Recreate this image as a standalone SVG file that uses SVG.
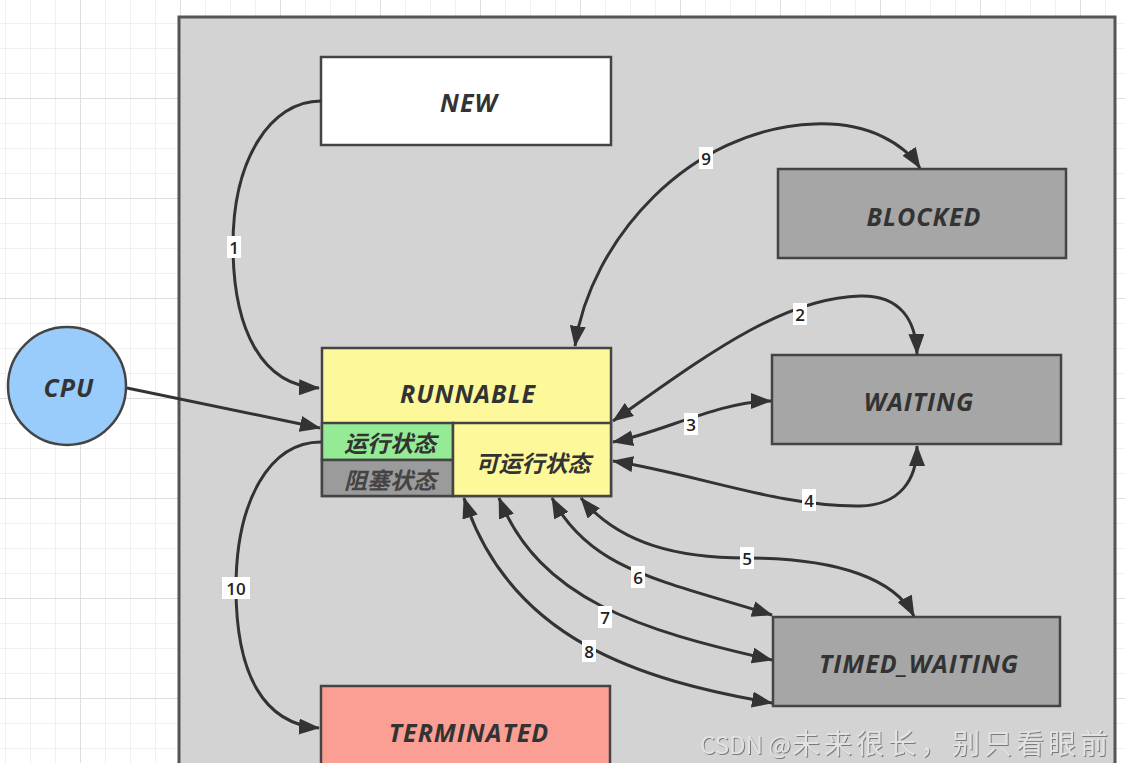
<svg xmlns="http://www.w3.org/2000/svg" width="1125" height="771" viewBox="0 0 1125 771">
<defs>
<pattern id="gridMinor" width="25" height="25" patternUnits="userSpaceOnUse" x="5" y="23">
<path d="M0,0 H25 M0,0 V25" fill="none" stroke="#ececec" stroke-width="1.5"/>
</pattern>
<pattern id="gridMajor" width="100" height="100" patternUnits="userSpaceOnUse" x="80" y="98">
<path d="M0,0 H100 M0,0 V100" fill="none" stroke="#dedede" stroke-width="2"/>
</pattern>
<marker id="arrow" markerUnits="userSpaceOnUse" markerWidth="22" markerHeight="16" refX="20" refY="8" orient="auto-start-reverse">
<path d="M0,0 L21,8 L0,16 z" fill="#333"/>
</marker>
<filter id="emboss" x="-5%" y="-20%" width="110%" height="140%">
<feDropShadow dx="1" dy="1" stdDeviation="0.3" flood-color="#7a7a7a" flood-opacity="1"/>
</filter>
<style>
.box{stroke:#444;stroke-width:2.5}
.state{font-family:"Open Sans","DejaVu Sans",sans-serif;font-weight:700;font-style:italic;font-size:25px;letter-spacing:1px;fill:#333;text-anchor:middle;dominant-baseline:central}
.cn{font-family:"Noto Sans CJK SC",sans-serif;font-weight:700;font-style:italic;font-size:23px;fill:#333;text-anchor:middle;dominant-baseline:central}
.conn{fill:none;stroke:#333;stroke-width:3}
.lblbg{fill:#ffffff}
.lbl{font-family:"Open Sans","DejaVu Sans",sans-serif;font-weight:600;font-size:17px;fill:#222;text-anchor:middle;dominant-baseline:central}
.wm{font-family:"Noto Sans CJK SC",sans-serif}
</style>
</defs>
<rect width="1125" height="771" fill="#ffffff"/>
<rect width="1125" height="771" fill="url(#gridMinor)"/>
<rect width="1125" height="771" fill="url(#gridMajor)"/>
<rect id="container" x="179" y="17" width="936" height="760" fill="#d3d3d3" stroke="#555" stroke-width="3"/>

<g id="node-new"><rect class="box" x="321" y="57" width="290" height="88" fill="#ffffff"/><text class="state" x="469" y="102">NEW</text></g>
<g id="node-blocked"><rect class="box" x="778" y="169" width="288" height="89" fill="#a6a6a6"/><text class="state" x="924" y="216">BLOCKED</text></g>
<g id="node-waiting"><rect class="box" x="772" y="355" width="289" height="89" fill="#a6a6a6"/><text class="state" x="919" y="401">WAITING</text></g>
<g id="node-timed-waiting"><rect class="box" x="773" y="617" width="287" height="89" fill="#a6a6a6"/><text class="state" x="919" y="663">TIMED_WAITING</text></g>
<g id="node-terminated"><rect class="box" x="321" y="686" width="289" height="100" fill="#fb9f95"/><text class="state" x="469" y="732">TERMINATED</text></g>
<g id="node-runnable">
<rect class="box" x="322" y="348" width="289" height="148" fill="#fdf99a"/>
<text class="state" x="468" y="393">RUNNABLE</text>
<rect class="box" x="322" y="423" width="131" height="37" fill="#95eb95"/>
<text class="cn" x="390" y="442">运行状态</text>
<rect class="box" x="322" y="460" width="131" height="36" fill="#9b9b9b"/>
<text class="cn" x="390" y="479" style="fill:#444">阻塞状态</text>
<rect class="box" x="453" y="423" width="158" height="73" fill="#fdf99a"/>
<text class="cn" x="533" y="462">可运行状态</text>
</g>
<g id="node-cpu"><circle class="box" cx="67" cy="386" r="59" fill="#99cbfb"/><text class="state" x="69" y="387">CPU</text></g>

<g id="connectors">
<path class="conn" d="M321,101 C270,101 233,160 233,245 C233,330 262,386 319,388" marker-end="url(#arrow)"/>
<path class="conn" d="M127,388 L320,428" marker-end="url(#arrow)"/>
<path class="conn" d="M321,442 C270,442 236,500 236,588 C236,675 264,724 319,728" marker-end="url(#arrow)"/>
<path class="conn" d="M575,346 C590,240 690,128 815,124 C870,122 905,145 920,168" marker-start="url(#arrow)" marker-end="url(#arrow)"/>
<path class="conn" d="M613,421 C700,360 780,298 860,296 C900,295 916,320 917,354" marker-start="url(#arrow)" marker-end="url(#arrow)"/>
<path class="conn" d="M613,442 C660,433 720,401 771,401" marker-start="url(#arrow)" marker-end="url(#arrow)"/>
<path class="conn" d="M613,461 C700,475 780,507 860,506 C900,505 917,480 917,446" marker-start="url(#arrow)" marker-end="url(#arrow)"/>
<path class="conn" d="M581,498 C620,545 680,558 746,558 C840,558 895,580 914,616" marker-start="url(#arrow)" marker-end="url(#arrow)"/>
<path class="conn" d="M552,498 C590,570 660,580 772,615" marker-start="url(#arrow)" marker-end="url(#arrow)"/>
<path class="conn" d="M499,498 C540,600 640,630 772,660" marker-start="url(#arrow)" marker-end="url(#arrow)"/>
<path class="conn" d="M464,498 C510,640 640,680 772,703" marker-start="url(#arrow)" marker-end="url(#arrow)"/>
<g id="labels">
<rect class="lblbg" x="227" y="236" width="14" height="22"/><text class="lbl" x="234" y="247">1</text>
<rect class="lblbg" x="222" y="577" width="28" height="22"/><text class="lbl" x="236" y="588">10</text>
<rect class="lblbg" x="699" y="147" width="14" height="22"/><text class="lbl" x="706" y="158">9</text>
<rect class="lblbg" x="793" y="303" width="14" height="22"/><text class="lbl" x="800" y="314">2</text>
<rect class="lblbg" x="684" y="413" width="14" height="22"/><text class="lbl" x="691" y="424">3</text>
<rect class="lblbg" x="802" y="489" width="14" height="22"/><text class="lbl" x="809" y="500">4</text>
<rect class="lblbg" x="740" y="547" width="14" height="22"/><text class="lbl" x="747" y="558">5</text>
<rect class="lblbg" x="631" y="566" width="14" height="22"/><text class="lbl" x="638" y="577">6</text>
<rect class="lblbg" x="598" y="606" width="14" height="22"/><text class="lbl" x="605" y="617">7</text>
<rect class="lblbg" x="582" y="640" width="14" height="22"/><text class="lbl" x="589" y="651">8</text>
</g>
</g>
<rect x="0" y="763" width="1125" height="8" fill="#ffffff"/>
<g id="watermark">
<text class="wm" x="700" y="754" fill="#e2e2e2" filter="url(#emboss)"><tspan font-size="24">CSDN @</tspan><tspan x="792" font-size="28" textLength="316" lengthAdjust="spacing">未来很长，别只看眼前</tspan></text>
</g>
</svg>
